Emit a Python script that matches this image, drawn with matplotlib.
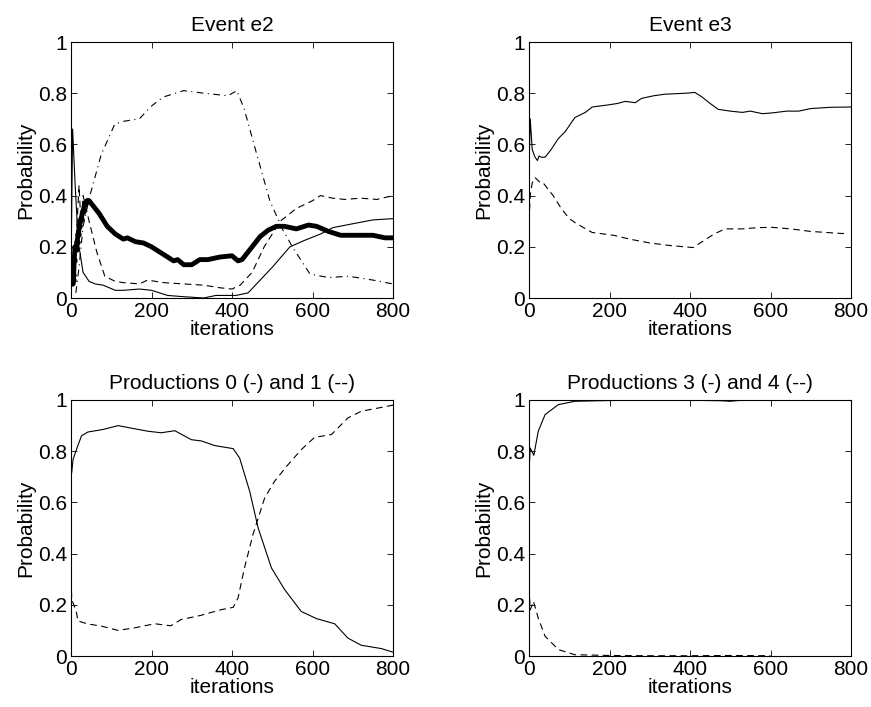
import numpy as np
import matplotlib
matplotlib.use("Agg")
import matplotlib.pyplot as plt

plt.rcParams['font.family'] = ['Liberation Sans', 'DejaVu Sans']
plt.rcParams['font.size'] = 15

# ---- Event e2 ----
e2_solid_it = [0, 4, 10, 18, 30, 45, 60, 80, 110, 130, 170, 200, 240, 280, 330, 360, 410, 440, 470, 500, 544, 580, 620, 651, 700, 750, 800]
e2_solid_p = [0.10, 0.66, 0.45, 0.22, 0.10, 0.065, 0.055, 0.05, 0.03, 0.03, 0.035, 0.03, 0.01, 0.005, 0.0, 0.01, 0.01, 0.02, 0.07, 0.12, 0.20, 0.225, 0.25, 0.275, 0.29, 0.305, 0.31]

e2_dash_it = [0, 5, 12, 20, 25, 30, 45, 64, 84, 110, 130, 170, 190, 230, 280, 330, 370, 400, 420, 450, 480, 520, 560, 600, 620, 650, 680, 720, 760, 800]
e2_dash_p = [0.25, 0.05, 0.20, 0.44, 0.28, 0.40, 0.30, 0.18, 0.085, 0.065, 0.06, 0.055, 0.07, 0.06, 0.055, 0.05, 0.04, 0.035, 0.05, 0.10, 0.20, 0.30, 0.35, 0.38, 0.40, 0.39, 0.385, 0.39, 0.385, 0.40]

e2_dashdot_it = [12, 20, 30, 47, 75, 109, 130, 170, 200, 229, 280, 330, 390, 412, 430, 460, 494, 525, 550, 594, 640, 690, 750, 800]
e2_dashdot_p = [0.02, 0.12, 0.28, 0.40, 0.56, 0.68, 0.69, 0.70, 0.75, 0.785, 0.81, 0.80, 0.79, 0.81, 0.74, 0.57, 0.38, 0.27, 0.20, 0.093, 0.08, 0.085, 0.07, 0.055]

e2_thick_it = [0, 2, 4, 6, 8, 10, 12, 15, 18, 21, 25, 30, 35, 40, 45, 60, 70, 90, 110, 130, 140, 160, 180, 200, 220, 240, 255, 265, 280, 300, 320, 340, 370, 400, 415, 425, 450, 470, 490, 510, 530, 560, 590, 610, 640, 670, 700, 750, 780, 800]
e2_thick_p = [0.12, 0.06, 0.09, 0.07, 0.15, 0.20, 0.19, 0.22, 0.25, 0.28, 0.31, 0.34, 0.37, 0.38, 0.38, 0.35, 0.33, 0.28, 0.25, 0.23, 0.235, 0.22, 0.215, 0.20, 0.18, 0.16, 0.145, 0.15, 0.13, 0.13, 0.15, 0.15, 0.16, 0.165, 0.145, 0.15, 0.20, 0.24, 0.265, 0.28, 0.28, 0.27, 0.285, 0.28, 0.26, 0.245, 0.245, 0.245, 0.235, 0.235]

# ---- Event e3 ----
e3_solid_it = [0, 3, 8, 15, 21, 25, 30, 40, 55, 73, 90, 114, 140, 157, 200, 220, 239, 264, 280, 310, 337, 390, 412, 430, 450, 470, 500, 530, 550, 580, 604, 640, 670, 700, 750, 800]
e3_solid_p = [0.50, 0.70, 0.58, 0.55, 0.537, 0.555, 0.55, 0.55, 0.58, 0.623, 0.65, 0.705, 0.725, 0.746, 0.755, 0.76, 0.768, 0.763, 0.78, 0.79, 0.796, 0.80, 0.803, 0.785, 0.76, 0.737, 0.73, 0.725, 0.73, 0.72, 0.723, 0.73, 0.73, 0.74, 0.745, 0.746]

e3_dash_it = [0, 3, 8, 15, 22, 28, 35, 60, 80, 100, 114, 130, 157, 210, 250, 300, 350, 408, 430, 460, 487, 530, 570, 604, 650, 700, 777, 790]
e3_dash_p = [0.30, 0.40, 0.45, 0.47, 0.46, 0.45, 0.45, 0.40, 0.35, 0.31, 0.295, 0.28, 0.256, 0.245, 0.23, 0.215, 0.205, 0.197, 0.22, 0.25, 0.27, 0.27, 0.275, 0.276, 0.27, 0.26, 0.252, 0.252]

# ---- Productions 0 and 1 ----
p01_solid_it = [0, 2, 5, 12, 26, 42, 80, 117, 150, 191, 224, 258, 299, 324, 357, 403, 419, 444, 465, 498, 531, 572, 610, 655, 688, 721, 771, 800]
p01_solid_p = [0.70, 0.72, 0.767, 0.80, 0.86, 0.875, 0.885, 0.90, 0.89, 0.878, 0.872, 0.88, 0.845, 0.84, 0.822, 0.81, 0.773, 0.643, 0.50, 0.344, 0.259, 0.174, 0.146, 0.126, 0.07, 0.042, 0.029, 0.015]

p01_dash_it = [0, 2, 13, 17, 42, 75, 117, 158, 208, 248, 273, 323, 373, 403, 415, 431, 452, 481, 506, 539, 572, 605, 647, 688, 721, 771, 800]
p01_dash_p = [0.30, 0.22, 0.175, 0.137, 0.125, 0.117, 0.10, 0.11, 0.126, 0.118, 0.142, 0.159, 0.181, 0.19, 0.227, 0.344, 0.474, 0.617, 0.683, 0.747, 0.806, 0.854, 0.865, 0.93, 0.956, 0.971, 0.98]

# ---- Productions 3 and 4 ----
p34_solid_it = [0, 3, 12, 23, 40, 73, 114, 200, 300, 400, 480, 500, 520, 600, 700, 800]
p34_solid_p = [0.72, 0.8125, 0.784, 0.878, 0.943, 0.982, 0.995, 0.998, 0.999, 0.999, 0.997, 0.995, 0.998, 0.999, 0.999, 0.999]

p34_dash_it = [0, 3, 11, 23, 40, 73, 114, 200, 300, 400, 500, 600]
p34_dash_p = [0.27, 0.18, 0.214, 0.148, 0.077, 0.025, 0.005, 0.002, 0.001, 0.001, 0.002, 0.001]

titles = ['Event e2', 'Event e3', 'Productions 0 (-) and 1 (--)', 'Productions 3 (-) and 4 (--)']

fig = plt.figure(figsize=(8.71, 7.07), dpi=100)
W, H = 871, 707
boxes = [(71, 42), (529, 42), (71, 400), (529, 400)]
axes = []
for (x0, y0) in boxes:
    ax = fig.add_axes([x0 / W, 1 - (y0 + 256) / H, 322 / W, 256 / H])
    axes.append(ax)

thin = dict(color='k', lw=0.8)

ax = axes[0]
ax.plot(e2_solid_it, e2_solid_p, '-', **thin)
ax.plot(e2_dash_it, e2_dash_p, '--', dashes=(6, 4), **thin)
ax.plot(e2_dashdot_it, e2_dashdot_p, '-.', dashes=(6, 4, 1, 4), **thin)
ax.plot(e2_thick_it, e2_thick_p, '-', color='k', lw=3.5)
ax.plot(e2_thick_it[:14], e2_thick_p[:14], 'o', color='k', ms=3.5)

ax = axes[1]
ax.plot(e3_solid_it, e3_solid_p, '-', **thin)
ax.plot(e3_dash_it, e3_dash_p, '--', dashes=(6, 4), **thin)

ax = axes[2]
ax.plot(p01_solid_it, p01_solid_p, '-', **thin)
ax.plot(p01_dash_it, p01_dash_p, '--', dashes=(6, 4), **thin)

ax = axes[3]
ax.plot(p34_solid_it, p34_solid_p, '-', **thin)
ax.plot(p34_dash_it, p34_dash_p, '--', dashes=(6, 4), **thin)

for ax, t in zip(axes, titles):
    ax.set_xlim(0, 800)
    ax.set_ylim(0, 1)
    ax.set_xticks([0, 200, 400, 600, 800])
    ax.set_yticks([0, 0.2, 0.4, 0.6, 0.8, 1])
    ax.set_yticklabels(['0', '0.2', '0.4', '0.6', '0.8', '1'])
    ax.tick_params(direction='in', top=True, right=True, length=4, width=0.6, pad=3)
    for s in ax.spines.values():
        s.set_linewidth(0.8)
    ax.set_title(t, fontsize=15, pad=8)
    ax.set_xlabel('iterations', fontsize=15, labelpad=-1)
    ax.set_ylabel('Probability', fontsize=15, labelpad=2)

fig.savefig('out.png', dpi=100)
